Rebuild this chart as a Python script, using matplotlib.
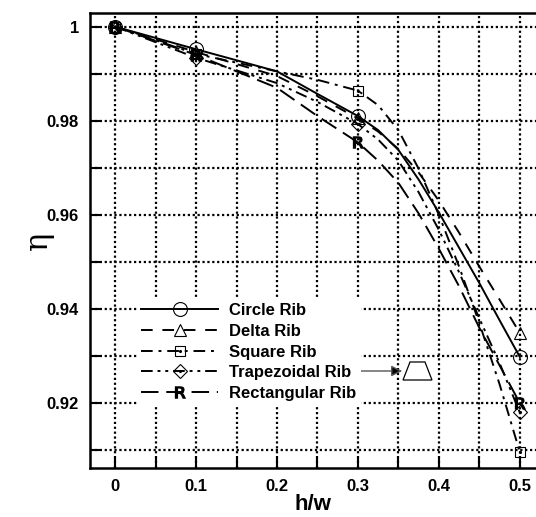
import numpy as np
import matplotlib
matplotlib.use("Agg")
import matplotlib.pyplot as plt
from matplotlib.legend_handler import HandlerTuple
from matplotlib.patches import Polygon

plt.rcParams['font.family'] = ['Liberation Sans', 'DejaVu Sans']
plt.rcParams['font.weight'] = 'bold'

# h/w positions, markers only at the computed cases
hw = [0.0, 0.1, 0.2, 0.25, 0.3, 0.325, 0.35, 0.375, 0.4, 0.425, 0.45, 0.475, 0.5]
marker_idx = [0, 1, 4, 12]

eta_circle = [1.0, 0.9952, 0.9905, 0.9857, 0.9810, 0.9780, 0.9738, 0.9675, 0.9605, 0.9530, 0.9455, 0.9376, 0.9298]
eta_delta = [1.0, 0.9946, 0.9895, 0.9852, 0.9805, 0.9777, 0.9740, 0.9690, 0.9630, 0.9562, 0.9490, 0.9420, 0.9349]
eta_square = [1.0, 0.9942, 0.9905, 0.9887, 0.9864, 0.9833, 0.9780, 0.9698, 0.9600, 0.9490, 0.9370, 0.9240, 0.9096]
eta_trap = [1.0, 0.9934, 0.9880, 0.9840, 0.9793, 0.9760, 0.9715, 0.9648, 0.9568, 0.9478, 0.9380, 0.9285, 0.9180]
eta_rect = [1.0, 0.9940, 0.9870, 0.9810, 0.9754, 0.9715, 0.9668, 0.9603, 0.9528, 0.9448, 0.9360, 0.9280, 0.9200]

labels = ['Circle Rib', 'Delta Rib', 'Square Rib', 'Trapezoidal Rib', 'Rectangular Rib']

fig = plt.figure(figsize=(5.36, 5.17), dpi=100)
ax = fig.add_axes([90/536, 49/517, 446/536, 455/517])

lw = 1.4
mew = 0.8
common = dict(color='black', lw=lw, mfc='none', mec='black', mew=mew, markevery=marker_idx)

l1, = ax.plot(hw, eta_circle, ls='-', marker='o', ms=10, **common)
l2, = ax.plot(hw, eta_delta, ls=(0, (6, 5)), marker='^', ms=9, **common)
l3, = ax.plot(hw, eta_square, ls=(0, (6, 3, 1.5, 3)), marker='s', ms=7, **common)
d3, = ax.plot([hw[i] for i in marker_idx], [eta_square[i] for i in marker_idx],
              ls='none', marker='.', ms=2.5, color='black')
l4, = ax.plot(hw, eta_trap, ls=(0, (6, 2.5, 1.5, 2.5, 1.5, 2.5)), marker='D', ms=7, **common)
d4, = ax.plot([hw[i] for i in marker_idx], [eta_trap[i] for i in marker_idx],
              ls='none', marker='.', ms=2.5, color='black')
rect_common = dict(common)
rect_common['mfc'] = 'black'
rect_common['mew'] = 0
l5, = ax.plot(hw, eta_rect, ls=(0, (9, 4)), marker=r'$\mathbf{R}$', ms=9, **rect_common)

ax.set_xlim(-0.031, 0.52)
ax.set_ylim(0.9062, 1.0029)
ax.set_xticks([0, 0.1, 0.2, 0.3, 0.4, 0.5])
ax.set_xticklabels(['0', '0.1', '0.2', '0.3', '0.4', '0.5'])
ax.set_xticks(np.arange(0.05, 0.5, 0.1), minor=True)
ax.set_yticks([0.92, 0.94, 0.96, 0.98, 1.0])
ax.set_yticklabels(['0.92', '0.94', '0.96', '0.98', '1'])
ax.set_yticks([0.91, 0.93, 0.95, 0.97, 0.99], minor=True)

ax.grid(True, which='both', color='black', ls=(0, (1, 1.2)), lw=1.6)
ax.tick_params(which='both', direction='in', length=7, width=1.5, labelsize=12, pad=8)
for lab in ax.get_xticklabels() + ax.get_yticklabels():
    lab.set_fontweight('bold')
for s in ['left', 'bottom', 'top']:
    ax.spines[s].set_linewidth(1.8)
ax.spines['right'].set_visible(False)

ax.set_xlabel('h/w', fontsize=16, fontweight='bold', labelpad=0)
ax.set_ylabel('η', fontsize=22, family='DejaVu Serif', fontweight='normal')
ax.yaxis.set_label_coords(-0.08, 0.5)

leg = ax.legend([l1, l2, (l3, d3), (l4, d4), l5], labels,
                handler_map={tuple: HandlerTuple(ndivide=1)},
                loc='upper left', bbox_to_anchor=(137/536, 1 - 299/517),
                bbox_transform=fig.transFigure, borderaxespad=0,
                fontsize=12, handlelength=4.6, handletextpad=0.7,
                labelspacing=0.34, borderpad=0.25, fancybox=False,
                framealpha=1, edgecolor='none', facecolor='white')
for t in leg.get_texts():
    t.set_fontweight('bold')

# trapezoid sketch with arrow pointing at it
ax.annotate('', xy=(0.70, 0.2132), xytext=(0.601, 0.2132), xycoords='axes fraction',
            arrowprops=dict(arrowstyle='-|>', ec='#555555', fc='black', lw=1.0,
                            mutation_scale=16, shrinkA=0, shrinkB=0), zorder=5)
trap = Polygon([(0.7018, 0.1934), (0.7668, 0.1934), (0.7511, 0.233), (0.7175, 0.233)],
               closed=True, fc='white', ec='black', lw=0.9, transform=ax.transAxes, zorder=5)
ax.add_patch(trap)

fig.savefig('out.png', dpi=100)
